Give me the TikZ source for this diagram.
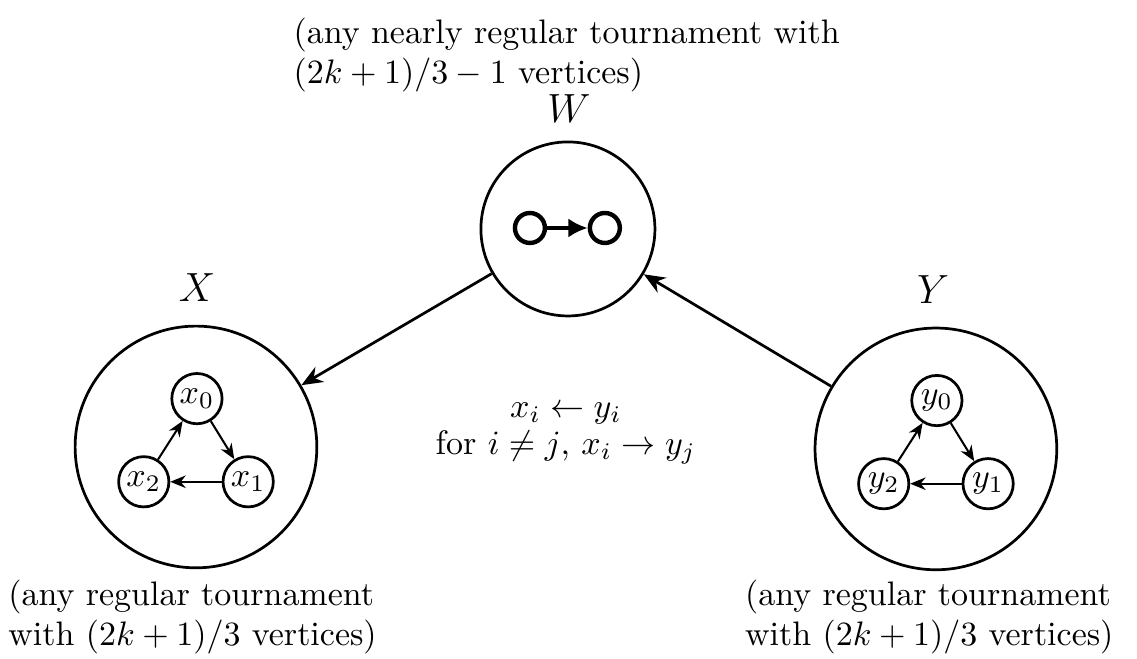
\documentclass[tikz,border=0pt]{standalone}
\usepackage{tikz}
\usetikzlibrary{arrows.meta, positioning}
\usepackage{amsmath,amssymb}

\begin{document}
\begin{tikzpicture}[
  setc/.style={circle, draw, thick, minimum size=2.5cm, inner sep=0pt},
  vtx/.style={circle, draw, thick, minimum size=0.52cm, inner sep=0pt},
  dotv/.style={circle, draw, line width=1.3pt, minimum size=0.31cm, inner sep=0pt},
  arr/.style={-{Stealth[length=2.2mm, width=1.8mm]}, thick},
  sarr/.style={-{Stealth[length=1.6mm, width=1.3mm]}, semithick}
]

%% bounding box
\useasboundingbox (0,0) rectangle (11.76, 6.815);

%% ===== top: W =====
\node[setc, minimum size=1.80cm] (W) at (5.874, 4.447) {};
\node[font=\large] (Wlab) at (5.884, 5.688) {$W$};
\node[align=left, anchor=north west, inner sep=0pt] (Wtxt) at (3.03, 6.64)
  {(any nearly regular tournament with\\$(2k+1)/3-1$ vertices)};

%% one edge inside W
\node[dotv] (wa) at (5.481, 4.457) {};
\node[dotv] (wb) at (6.256, 4.457) {};
\draw[-{Latex[length=2mm, width=2mm]}, line width=1.3pt] (wa) -- (wb);

%% ===== left: X =====
\begin{scope}[shift={(2.027, 2.192)}]
  \node[setc] (X) at (0, 0) {};
  \node[font=\large] (Xlab) at (0.01, 1.645) {$X$};
  \node[vtx] (x0) at (0.01, 0.5) {$x_0$};
  \node[vtx] (x1) at (0.54, -0.36) {$x_1$};
  \node[vtx] (x2) at (-0.54, -0.36) {$x_2$};
  \draw[sarr] (x0) -- (x1);
  \draw[sarr] (x1) -- (x2);
  \draw[sarr] (x2) -- (x0);
\end{scope}

%% ===== right: Y =====
\begin{scope}[shift={(9.680, 2.172)}]
  \node[setc] (Y) at (0, 0) {};
  \node[font=\large] (Ylab) at (-0.03, 1.645) {$Y$};
  \node[vtx] (y0) at (0.01, 0.5) {$y_0$};
  \node[vtx] (y1) at (0.54, -0.36) {$y_1$};
  \node[vtx] (y2) at (-0.54, -0.36) {$y_2$};
  \draw[sarr] (y0) -- (y1);
  \draw[sarr] (y1) -- (y2);
  \draw[sarr] (y2) -- (y0);
\end{scope}

%% set arrows
\draw[arr] (W) -- (X);
\draw[arr] (Y) -- (W);

%% middle rule
\node[align=center] (rule) at (5.853, 2.33)
  {$x_i \leftarrow y_i$\\[-1pt]for $i \neq j$, $x_i \rightarrow y_j$};

%% captions below
\node[align=left, anchor=south west, inner sep=0pt] (Xtxt) at (0.08, 0.04)
  {(any regular tournament\\with $(2k+1)/3$ vertices)};
\node[align=left, anchor=south west, inner sep=0pt] (Ytxt) at (7.70, 0.04)
  {(any regular tournament\\with $(2k+1)/3$ vertices)};

\end{tikzpicture}
\end{document}
